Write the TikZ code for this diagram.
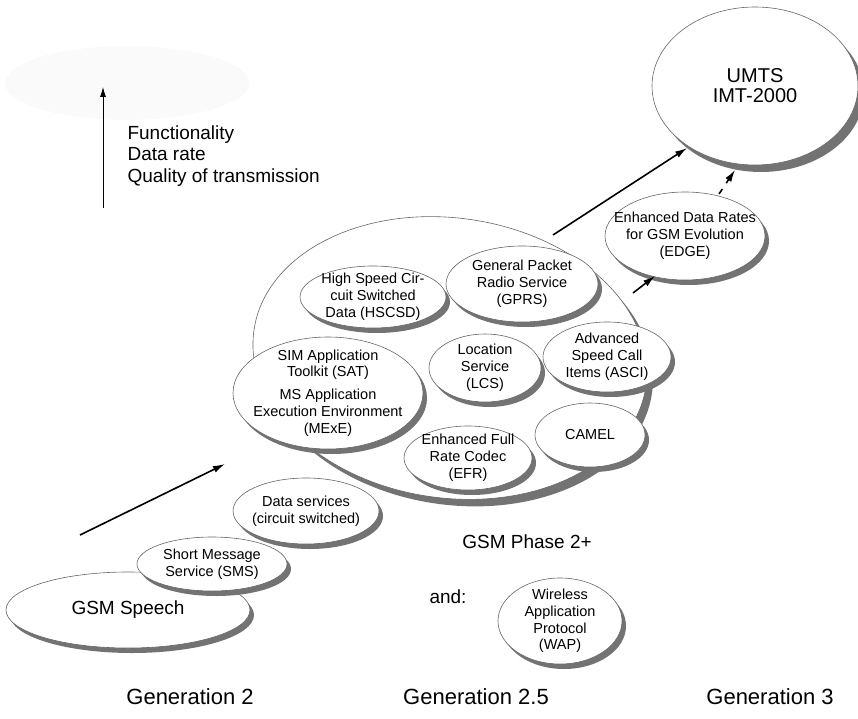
\documentclass[tikz,border=0pt]{standalone}
\usepackage{fontspec}
\setmainfont{Liberation Sans}
\usepackage{tikz}
\usetikzlibrary{shapes,arrows,arrows.meta,positioning,shadows}

\tikzset{
  blob/.style={ellipse, draw=black!60, line width=0.6pt, fill=white, inner sep=-30pt},
  bubble/.style={blob, drop shadow={shadow xshift=4pt, shadow yshift=-5pt, fill=black!55, opacity=1}},
  bigbubble/.style={blob, drop shadow={shadow xshift=6pt, shadow yshift=-7pt, fill=black!55, opacity=1}},
  txt/.style={align=center, font=\fontsize{14.5}{16.8}\selectfont},
  big/.style={align=center, font=\fontsize{19}{21.5}\selectfont},
  gen/.style={font=\fontsize{22}{24}\selectfont},
  evol/.style={-{Latex[length=12pt,width=7pt]}, line width=1.6pt},
}

\begin{document}
\begin{tikzpicture}[x=1pt, y=-1pt]
  \useasboundingbox (0,0) rectangle (858,719);

  % faint smudge behind the axis
  \fill[black!2] (127,83) ellipse [x radius=122, y radius=37];
  \coordinate (up0) at (103,208);
  \coordinate (up1) at (103,87);
  \draw[-{Latex[length=10pt,width=6pt]}, line width=0.8pt] (up0) -- (up1);
  \node[big, anchor=west, align=left] (axis) at (124,156) {Functionality\\Data rate\\Quality of transmission};

  % generation 2
  \node[bubble, big, minimum width=244, minimum height=76] (gsm) at (128,610) {GSM Speech};
  \node[bubble, txt, minimum width=150, minimum height=54] (sms) at (212,564) {Short Message\\Service (SMS)};

  % phase 2+
  \node[bigbubble, minimum width=396, minimum height=280, rotate=-8] (phase) at (450,358) {};
  \node[bubble, txt, minimum width=146, minimum height=62] (hscsd) at (373,297) {High Speed Cir-\\cuit Switched\\Data (HSCSD)};
  \node[bubble, txt, minimum width=152, minimum height=76] (gprs) at (522,284) {General Packet\\Radio Service\\(GPRS)};
  \node[bubble, txt, minimum width=190, minimum height=112] (sat) at (328,393) {SIM Application\\Toolkit (SAT)\\[6pt]MS Application\\Execution Environment\\(MExE)};
  \node[bubble, txt, minimum width=112, minimum height=68] (lcs) at (485,368) {Location\\Service\\(LCS)};
  \node[bubble, txt, minimum width=128, minimum height=70] (asci) at (607,357) {Advanced\\Speed Call\\Items (ASCI)};
  \node[bubble, txt, minimum width=128, minimum height=64] (efr) at (468,458) {Enhanced Full\\Rate Codec\\(EFR)};
  \node[bubble, txt, minimum width=110, minimum height=64] (camel) at (590,435) {CAMEL};
  \node[bubble, txt, minimum width=146, minimum height=66] (data) at (306,511) {Data services\\(circuit switched)};
  \node[big] (p2) at (527,542) {GSM Phase 2+};
  \node[big] (and) at (448,597) {and:};
  \node[bubble, txt, minimum width=124, minimum height=86] (wap) at (560,621) {Wireless\\Application\\Protocol\\(WAP)};

  % generation 3
  \node[bubble, txt, minimum width=160, minimum height=88] (edge) at (685,236) {Enhanced Data Rates\\for GSM Evolution\\(EDGE)};
  \node[bigbubble, txt, font=\fontsize{20}{20}\selectfont, minimum width=206, minimum height=158] (umts) at (755,86) {UMTS\\IMT-2000};

  % evolution arrows
  \coordinate (a0) at (80,535);
  \coordinate (a1) at (225,464);
  \coordinate (b0) at (553,235);
  \coordinate (b1) at (687,148);
  \coordinate (c0) at (633,293);
  \coordinate (c1) at (655,276);
  \coordinate (d0) at (719,194);
  \coordinate (d1) at (735,170);
  \draw[evol] (a0) -- (a1);
  \draw[evol] (b0) -- (b1);
  \draw[evol] (c0) -- (c1);
  \draw[evol, dash pattern=on 6pt off 7pt] (d0) -- (d1);

  \node[gen] (g2) at (190,697) {Generation 2};
  \node[gen] (g25) at (476,697) {Generation 2.5};
  \node[gen] (g3) at (770,697) {Generation 3};
\end{tikzpicture}
\end{document}
